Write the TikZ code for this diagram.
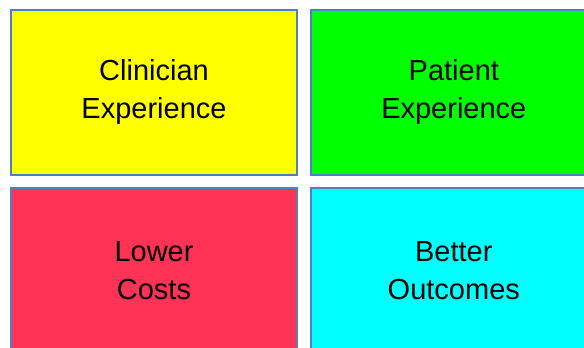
\documentclass[tikz,border=0pt]{standalone}
\usepackage{fontspec}
\setmainfont{Liberation Sans}
\usetikzlibrary{positioning,backgrounds}
\definecolor{Edge}{HTML}{4F7FBE}
\definecolor{Lemon}{HTML}{FFFF00}
\definecolor{Lime}{HTML}{00FF00}
\definecolor{Coral}{HTML}{FF3355}
\definecolor{Aqua}{HTML}{00FFFF}

\begin{document}
\begin{tikzpicture}[x=1pt,y=1pt,node distance=11pt and 12pt,
  every node/.style={font=\fontsize{29}{38}\selectfont,text=black},
  card/.style={rectangle,draw=Edge,line width=1.8pt,minimum width=286pt,minimum height=165pt,align=center,inner sep=0pt}]
\clip (0,0) rectangle (584,348);
\fill[white] (0,0) rectangle (584,348);
\node[card,fill=Lemon] (clin) at (154,255.5) {Clinician\\Experience};
\node[card,fill=Lime,right=of clin] (pat) {Patient\\Experience};
\node[card,fill=Coral,below=of clin] (cost) {Lower\\Costs};
\node[card,fill=Aqua,below=of pat] (out) {Better\\Outcomes};
% soft grey halo behind each card
\begin{scope}[on background layer]
\foreach \n in {clin,pat,cost,out}{
  \foreach \d in {1,...,7}{
    \fill[black,opacity=0.05,rounded corners=\d pt] ([shift={(-\d pt,-\d pt)}]\n.south west) rectangle ([shift={(\d pt,\d pt)}]\n.north east);
  }
}
\end{scope}
\end{tikzpicture}
\end{document}
